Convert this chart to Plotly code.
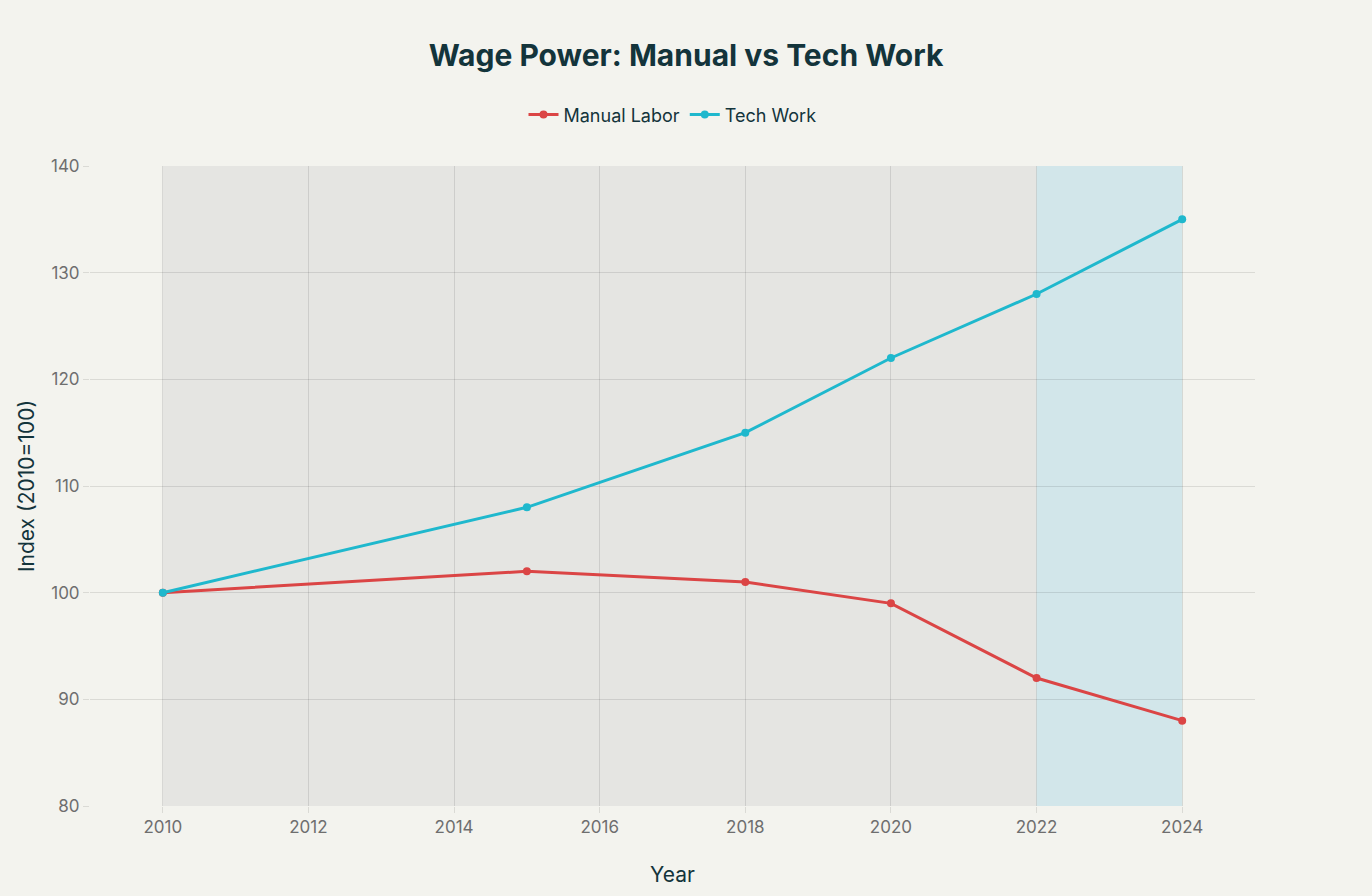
import plotly.graph_objects as go

years = [2010, 2015, 2018, 2020, 2022, 2024]
manual_labor = [100, 102, 101, 99, 92, 88]
tech_work = [100, 108, 115, 122, 128, 135]

fig = go.Figure()
fig.add_trace(go.Scatter(x=years, y=manual_labor, mode="lines+markers", name="Manual Labor",
                         line=dict(color="#DB4545", width=3), marker=dict(size=8, color="#DB4545")))
fig.add_trace(go.Scatter(x=years, y=tech_work, mode="lines+markers", name="Tech Work",
                         line=dict(color="#1FB8CD", width=3), marker=dict(size=8, color="#1FB8CD")))

fig.add_shape(type="rect", x0=2010, x1=2022, y0=80, y1=140, xref="x", yref="y",
              fillcolor="#E5E5E2", line=dict(width=0), layer="below")
fig.add_shape(type="rect", x0=2022, x1=2024, y0=80, y1=140, xref="x", yref="y",
              fillcolor="#D2E6EA", line=dict(width=0), layer="below")

fig.update_layout(
    width=1372, height=896,
    paper_bgcolor="#F3F3EE", plot_bgcolor="#F3F3EE",
    font=dict(family="Inter, Open Sans, sans-serif", color="#13343B", size=16),
    title=dict(text="<b>Wage Power: Manual vs Tech Work</b>", x=0.5, xanchor="center",
               y=1 - 55 / 896, yanchor="middle", font=dict(size=30, color="#13343B")),
    legend=dict(orientation="h", x=0.5, xanchor="center", y=1.08, yanchor="middle",
                font=dict(size=18, color="#13343B"), bgcolor="rgba(0,0,0,0)"),
    margin=dict(l=90, r=117, t=166, b=90),
    showlegend=True,
)
fig.update_xaxes(title=dict(text="Year", font=dict(size=21), standoff=30), range=[2009, 2025],
                 tickvals=[2010, 2012, 2014, 2016, 2018, 2020, 2022, 2024],
                 showgrid=True, gridcolor="rgba(0,0,0,0.1)", zeroline=False, showline=False,
                 ticks="outside", ticklen=6, tickcolor="rgba(0,0,0,0.1)",
                 tickfont=dict(size=17, color="#6E6E6E"))
fig.update_yaxes(title=dict(text="Index (2010=100)", font=dict(size=21), standoff=10), range=[80, 140],
                 dtick=10, showgrid=True, gridcolor="rgba(0,0,0,0.1)", zeroline=False, showline=False,
                 ticks="outside", ticklen=6, tickcolor="rgba(0,0,0,0.1)",
                 tickfont=dict(size=17, color="#6E6E6E"))

fig.write_html("out.html", config={"displayModeBar": False},
               post_script="document.body.style.margin='0';")
